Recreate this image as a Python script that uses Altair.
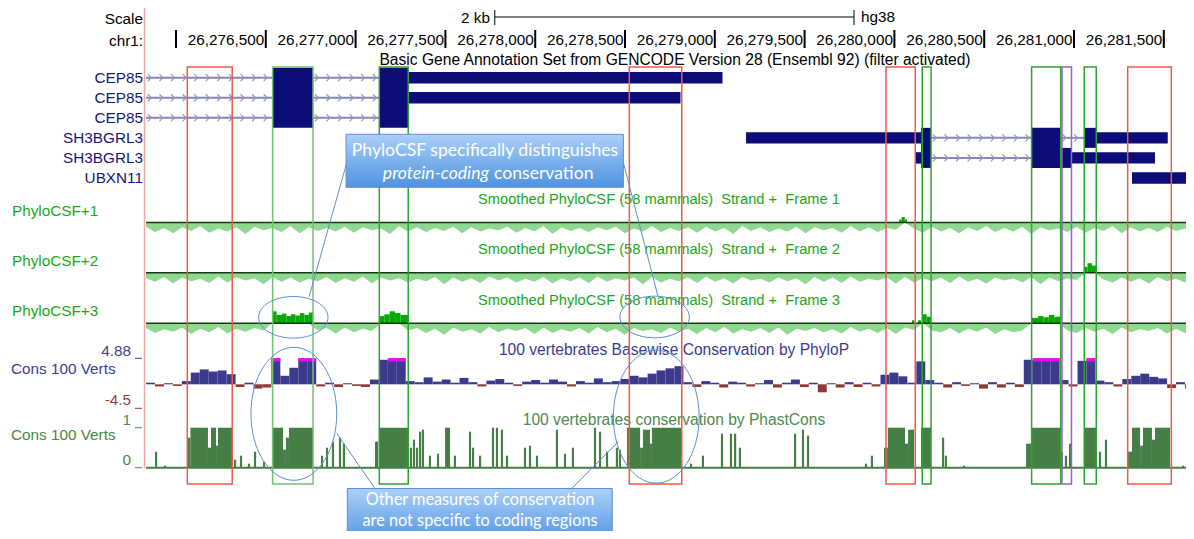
import altair as alt
import pandas as pd

# ------------------------------------------------------------------ data
RULER_TICKS = [26276000, 26276500, 26277000, 26277500, 26278000, 26278500,
               26279000, 26279500, 26280000, 26280500, 26281000, 26281500]
SCALE_BAR_BP = [26277775, 26279775]
TRACK_START = 26275833
TRACK_END = 26281668

GENE_NAMES = ["CEP85", "CEP85", "CEP85", "SH3BGRL3", "SH3BGRL3", "UBXN11"]

INTRON_ROW = [0, 0, 1, 1, 2, 2, 3, 3, 4]
INTRON_START = [26275833, 26276763, 26275833, 26276763, 26275833, 26276763,
                26280204, 26280926, 26280204]
INTRON_END = [26276538, 26277132, 26276538, 26277132, 26276538, 26277132,
              26280764, 26281061, 26280764]

BLOCK_ROW_TOP = [0, 0, 0, 1, 3, 3, 3, 3, 3, 4, 4, 4, 5]
BLOCK_ROW_BOT = [2, 2, 0, 1, 3, 4, 4, 3, 3, 4, 4, 4, 5]
BLOCK_START = [26276538, 26277132, 26277293, 26277293, 26279174, 26280148, 26280764,
               26281061, 26281124, 26280116, 26280926, 26280986, 26281323]
BLOCK_END = [26276763, 26277293, 26279043, 26278809, 26280148, 26280204, 26280926,
             26281124, 26281522, 26280148, 26280986, 26281451, 26281700]
BLOCK_KIND = ["cds", "cds", "utr", "utr", "utr", "cds", "cds",
              "cds", "utr", "utr", "cds", "utr", "utr"]

HL_START = [26276063, 26276538, 26277132, 26278524, 26279953,
            26280155, 26280764, 26280933, 26281057, 26281299]
HL_END = [26276313, 26276763, 26277293, 26278816, 26280116,
          26280204, 26280926, 26280986, 26281124, 26281542]
HL_KIND = ["noncoding", "coding_light", "coding", "noncoding", "noncoding",
           "coding", "coding", "other", "coding", "noncoding"]

# Smoothed PhyloCSF, negative background (score units), one value per window
CSF1_NEG = [7, 16, 9, 18, 8, 14, 6, 17, 10, 15,
            8, 19, 7, 13, 9, 16, 6, 18, 8, 14,
            9, 15, 7, 17, 8, 13, 10, 19, 6, 15,
            8, 16, 9, 14, 7, 18, 8, 15, 10, 13,
            7, 17, 9, 15, 6, 19, 8, 14, 9, 16,
            8, 13, 7, 18, 10, 15, 6, 16, 9, 14,
            8, 17, 7, 15, 9, 19, 6, 14, 8, 16,
            10, 15, 7, 18, 8, 13, 9, 17, 6, 15,
            8, 16, 9, 12, 0, 10, 17, 7, 15, 9,
            18, 8, 14, 6, 16, 9, 15, 7, 19, 8,
            13, 10, 16, 7, 17, 9, 14, 6, 18, 8,
            15, 9, 16, 7, 14, 10, 17]
CSF2_NEG = [9, 15, 7, 18, 8, 14, 10, 17, 6, 16,
            8, 13, 9, 19, 7, 15, 8, 16, 10, 14,
            7, 17, 9, 15, 6, 18, 8, 13, 9, 16,
            10, 14, 7, 19, 8, 15, 9, 17, 6, 13,
            8, 16, 10, 15, 7, 18, 9, 14, 8, 17,
            6, 15, 9, 13, 8, 19, 7, 16, 10, 14,
            8, 17, 6, 15, 9, 18, 7, 13, 10, 16,
            8, 14, 9, 19, 7, 15, 8, 17, 6, 15,
            10, 13, 8, 18, 7, 16, 9, 14, 8, 17,
            6, 15, 10, 18, 8, 13, 9, 16, 7, 19,
            8, 14, 9, 12, 0, 0, 11, 16, 8, 15,
            9, 18, 7, 14, 10, 16, 8]
CSF3_NEG = [8, 16, 10, 14, 7, 18, 9, 15, 6, 17,
            9, 14, 8, 12, 0, 0, 0, 0, 0, 12,
            8, 17, 7, 15, 9, 13, 0, 0, 0, 12,
            8, 16, 9, 19, 7, 14, 10, 17, 6, 15,
            9, 13, 8, 18, 7, 16, 10, 14, 8, 17,
            6, 15, 9, 19, 8, 13, 10, 16, 7, 14,
            9, 18, 8, 15, 6, 17, 10, 14, 8, 16,
            7, 19, 9, 13, 8, 15, 10, 17, 6, 14,
            9, 16, 8, 18, 7, 11, 0, 12, 15, 8,
            17, 9, 14, 7, 18, 10, 15, 12, 0, 0,
            0, 0, 12, 16, 8, 14, 9, 18, 7, 15,
            10, 13, 8, 17, 9, 16, 11]

# Smoothed PhyloCSF positive signal: (frame, start, end, score)
CSF_POSITIVE = [
    (1, 26280026, 26280040, 5), (1, 26280040, 26280058, 9), (1, 26280058, 26280070, 5),
    (2, 26281061, 26281075, 10), (2, 26281075, 26281100, 16), (2, 26281100, 26281123, 12),
    (3, 26276535, 26276560, 20), (3, 26276560, 26276590, 14), (3, 26276590, 26276615, 16),
    (3, 26276615, 26276640, 12), (3, 26276640, 26276665, 15), (3, 26276665, 26276690, 13),
    (3, 26276690, 26276715, 17), (3, 26276715, 26276740, 14), (3, 26276740, 26276763, 18),
    (3, 26277130, 26277160, 12), (3, 26277160, 26277190, 15), (3, 26277190, 26277220, 20),
    (3, 26277220, 26277250, 17), (3, 26277250, 26277292, 14),
    (3, 26280098, 26280110, 5), (3, 26280131, 26280148, 5),
    (3, 26280155, 26280180, 15), (3, 26280180, 26280204, 11),
    (3, 26280766, 26280800, 9), (3, 26280800, 26280830, 12), (3, 26280830, 26280860, 10),
    (3, 26280860, 26280890, 14), (3, 26280890, 26280922, 11),
]

# PhyloP basewise conservation, one value per window
PHYLOP = [0.3, -0.4, 0.2, -0.3, 0.6, 2.2, 2.8, 2.4, 2.6, 1.9,
          -0.5, 0.3, -0.8, -0.6, 4.88, 1.6, 3.1, 4.88, 4.88, -0.4,
          0.3, -0.5, 0.2, -0.3, -0.5, 0.9, 4.6, 4.88, 4.88, 0.6,
          0.4, 1.3, 0.5, 0.9, 0.3, 1.2, 0.4, -0.4, 0.7, 1.0,
          0.3, -0.3, 0.5, 0.8, 0.3, 0.9, 0.5, -0.4, 0.6, 0.3,
          1.1, 0.4, 0.6, 1.0, 1.6, 1.3, 2.0, 2.6, 3.0, 3.4,
          0.4, -0.5, 0.6, 0.3, -0.6, 0.5, 0.3, -0.4, 0.2, 0.8,
          -0.6, 0.3, 0.9, -0.5, 0.3, -1.5, 0.2, -0.6, 0.4, -0.5,
          0.3, -0.4, 1.8, 2.2, 1.5, 0.3, 4.3, 0.8, 0.3, -0.6,
          0.4, -0.3, 0.2, -0.8, 0.4, -0.6, 0.3, -0.5, 4.6, 4.88,
          4.88, 4.88, 0.8, -0.4, 4.4, 4.88, 0.7, 0.4, -0.4, 1.0,
          1.6, 2.0, 1.4, 1.1, -0.7, 0.4, -0.8]
PHYLOP_MAX, PHYLOP_MIN = 4.88, -4.5

# PhastCons: (start, end, probability)
PHASTCONS = [
    (26275883, 26275895, 0.40), (26275933, 26275945, 0.05),
    (26276063, 26276080, 0.75), (26276080, 26276178, 1.0), (26276178, 26276195, 0.5),
    (26276195, 26276223, 1.0), (26276223, 26276234, 0.55), (26276234, 26276312, 1.0),
    (26276323, 26276335, 0.2), (26276356, 26276368, 0.3), (26276400, 26276412, 0.1),
    (26276434, 26276446, 0.4), (26276484, 26276496, 0.15),
    (26276535, 26276596, 1.0), (26276596, 26276612, 0.45), (26276612, 26276629, 0.75),
    (26276629, 26276763, 1.0),
    (26276807, 26276819, 0.3), (26276835, 26276847, 0.5), (26276868, 26276880, 0.65),
    (26276907, 26276919, 0.75), (26276929, 26276941, 0.6),
    (26277108, 26277125, 0.65), (26277130, 26277292, 1.0),
    (26277302, 26277314, 0.5), (26277319, 26277331, 0.7), (26277336, 26277348, 0.5),
    (26277353, 26277365, 0.9), (26277369, 26277381, 0.95), (26277408, 26277420, 0.3),
    (26277453, 26277465, 0.35), (26277498, 26277526, 1.0), (26277547, 26277559, 0.3),
    (26277631, 26277643, 0.9), (26277648, 26277660, 0.5), (26277687, 26277699, 0.3),
    (26277759, 26277771, 1.0), (26277781, 26277793, 1.0), (26277809, 26277821, 0.95),
    (26277837, 26277849, 0.3), (26277937, 26277949, 0.5), (26277965, 26277977, 0.55),
    (26278004, 26278016, 0.3), (26278115, 26278127, 0.95), (26278160, 26278172, 0.35),
    (26278204, 26278216, 0.5), (26278327, 26278339, 1.0), (26278355, 26278367, 0.9),
    (26278394, 26278406, 0.4), (26278449, 26278461, 0.5), (26278466, 26278478, 0.45),
    (26278511, 26278584, 1.0), (26278584, 26278600, 0.5), (26278600, 26278639, 0.95),
    (26278639, 26278650, 0.6), (26278650, 26278812, 1.0),
    (26278862, 26278874, 0.1), (26278928, 26278940, 0.3), (26279034, 26279046, 0.85),
    (26279084, 26279096, 0.85), (26279107, 26279119, 0.85), (26279134, 26279146, 0.5),
    (26279441, 26279453, 0.85), (26279485, 26279497, 0.95), (26279513, 26279525, 0.8),
    (26279836, 26279848, 0.1), (26279869, 26279881, 0.3),
    (26279942, 26279964, 0.5), (26279964, 26280059, 1.0), (26280059, 26280076, 0.6),
    (26280076, 26280109, 0.95), (26280148, 26280204, 1.0),
    (26280265, 26280277, 0.75), (26280281, 26280293, 0.3), (26280382, 26280394, 0.05),
    (26280733, 26280761, 0.6), (26280766, 26280922, 1.0),
    (26280927, 26280939, 0.4), (26280949, 26280961, 0.3), (26280972, 26280984, 0.6),
    (26281061, 26281123, 1.0), (26281139, 26281151, 0.4), (26281172, 26281184, 0.7),
    (26281301, 26281323, 0.4), (26281323, 26281368, 1.0), (26281368, 26281384, 0.55),
    (26281384, 26281434, 1.0), (26281434, 26281451, 0.7), (26281451, 26281535, 1.0),
    (26281601, 26281613, 0.05),
]

# ------------------------------------------------------------------ layout / style
W, H = 1178, 523
PX_PER_BP = 0.1796
REF_BP, REF_PX = 26276000, 176
XL = REF_BP - (REF_PX - 8) / PX_PER_BP
XR = REF_BP + (8 + W - REF_PX) / PX_PER_BP
UFONT = "Liberation Sans"
CFONT = "Lato"
NAVY = "#0c0c78"
FS = 15.3
FT = 15.6
NB = "\u00a0"


def P(v):
    return v - 8


xs = alt.Scale(domain=[XL, XR], nice=False, zero=False)


def X(f):
    return alt.X(f, type="quantitative", scale=xs, axis=None)


def txt(s, x, y, align="left", color="#000000", size=FS, font=UFONT, style="normal"):
    return alt.Chart(pd.DataFrame({"t": [s]})).mark_text(
        align=align, baseline="middle", color=color, fontSize=size, font=font,
        fontStyle=style).encode(x=alt.value(P(x)), y=alt.value(P(y)), text="t:N")


def hrule(x1, x2, y, color, w=1.0):
    return alt.Chart(pd.DataFrame({"a": [0]})).mark_rule(color=color, strokeWidth=w).encode(
        x=alt.value(P(x1)), x2=alt.value(P(x2)), y=alt.value(P(y)))


layers = []

# pink left border line
layers.append(alt.Chart(pd.DataFrame({"a": [0]})).mark_rule(color="#f4a6a6", strokeWidth=1.5).encode(
    x=alt.value(P(144.5)), y=alt.value(P(5)), y2=alt.value(P(468))))

# ---- header: scale bar and ruler
layers.append(txt("Scale", 143, 19, align="right"))
layers.append(txt("chr1:", 143, 41, align="right"))
sb = pd.DataFrame({"s": [SCALE_BAR_BP[0]], "e": [SCALE_BAR_BP[1]]})
layers.append(alt.Chart(sb).mark_rule(color="#000", strokeWidth=1).encode(
    x=X("s"), x2="e:Q", y=alt.value(P(17))))
sbt = pd.DataFrame({"p": SCALE_BAR_BP})
layers.append(alt.Chart(sbt).mark_rule(color="#000", strokeWidth=1).encode(
    x=X("p"), y=alt.value(P(10)), y2=alt.value(P(25))))
layers.append(txt("2 kb", 490, 18, align="right"))
layers.append(txt("hg38", 861, 17))

ticks = pd.DataFrame({"p": RULER_TICKS})
layers.append(alt.Chart(ticks).mark_rule(color="#000", strokeWidth=2).encode(
    x=X("p"), y=alt.value(P(30)), y2=alt.value(P(48))))
tl = pd.DataFrame({"p": RULER_TICKS[1:], "lab": [f"{v:,}" for v in RULER_TICKS[1:]]})
layers.append(alt.Chart(tl).mark_text(align="right", baseline="middle", dx=-1.5, fontSize=FS,
                                      font=UFONT, color="#000").encode(
    x=X("p"), y=alt.value(P(40)), text="lab:N"))

layers.append(txt("Basic Gene Annotation Set from GENCODE Version 28 (Ensembl 92) (filter activated)",
                  675, 60, align="center", size=FT))

# ---- gene track
ROW0, PITCH = 77.7, 20.05
gy = alt.Scale(domain=[0, 5], range=[P(ROW0), P(ROW0 + 5 * PITCH)])
introns = pd.DataFrame({"row": INTRON_ROW, "s": INTRON_START, "e": INTRON_END})
layers.append(alt.Chart(introns).mark_rule(color="#8585c4", strokeWidth=2).encode(
    x=X("s"), x2="e:Q", y=alt.Y("row:Q", scale=gy, axis=None)))
chev = []
for r, s, e in zip(INTRON_ROW, INTRON_START, INTRON_END):
    p = s + 20
    while p < e - 15:
        chev.append({"row": r, "p": p})
        p += 64.5
layers.append(alt.Chart(pd.DataFrame(chev)).mark_point(
    shape="M-0.5,-1L0.5,0L-0.5,1", size=49, filled=False, color="#9a9a9a",
    strokeWidth=1.2, opacity=1).encode(x=X("p"), y=alt.Y("row:Q", scale=gy, axis=None)))
half = {"cds": 0.499, "utr": 0.284}
blocks = pd.DataFrame({"rt": BLOCK_ROW_TOP, "rb": BLOCK_ROW_BOT, "s": BLOCK_START,
                       "e": BLOCK_END, "k": BLOCK_KIND})
blocks["y0"] = blocks["rt"] - blocks["k"].map(half)
blocks["y1"] = blocks["rb"] + blocks["k"].map(half)
layers.append(alt.Chart(blocks).mark_rect(color=NAVY).encode(
    x=X("s"), x2="e:Q", y=alt.Y("y0:Q", scale=gy, axis=None), y2="y1:Q"))
for i, name in enumerate(GENE_NAMES):
    layers.append(txt(name, 143, ROW0 + i * PITCH, align="right", color="#16167c"))

# ---- PhyloCSF tracks
CSF_BASE = [222.5, 272.8, 323.3]
LIGHT = "#8fd88f"
n = len(CSF1_NEG)
grid = [TRACK_START + i * (TRACK_END - TRACK_START) / (n - 1) for i in range(n)]
pos_df = pd.DataFrame(CSF_POSITIVE, columns=["f", "s", "e", "v"])
pos_df["z"] = 0
for k, (neg, b) in enumerate(zip([CSF1_NEG, CSF2_NEG, CSF3_NEG], CSF_BASE)):
    cs = alt.Scale(domain=[-20, 20], range=[P(b + 12), P(b - 12)])
    nd = pd.DataFrame({"p": grid, "v": [-m for m in neg], "z": 0})
    layers.append(alt.Chart(nd).mark_area(color=LIGHT, interpolate="linear", opacity=1).encode(
        x=X("p"), y=alt.Y("v:Q", scale=cs, axis=None), y2="z:Q"))
    bd = pos_df[pos_df["f"] == k + 1]
    layers.append(alt.Chart(bd).mark_rect(color="#05a805").encode(
        x=X("s"), x2="e:Q", y=alt.Y("v:Q", scale=cs, axis=None), y2="z:Q"))
    base = pd.DataFrame({"s": [TRACK_START], "e": [TRACK_END], "z": [0]})
    layers.append(alt.Chart(base).mark_rule(color="#173817", strokeWidth=1.5).encode(
        x=X("s"), x2="e:Q", y=alt.Y("z:Q", scale=cs, axis=None)))
    layers.append(txt(f"PhyloCSF+{k + 1}", 12, b - 12, color="#1aa81a"))
    layers.append(txt(f"Smoothed PhyloCSF (58 mammals){NB} Strand +{NB} Frame {k + 1}", 659, b - 22.5,
                      align="center", color="#1aa81a", size=14.7))

# ---- PhyloP
ps = alt.Scale(domain=[PHYLOP_MIN, PHYLOP_MAX], range=[P(408.3), P(358.3)])
wbin = (TRACK_END - TRACK_START) / len(PHYLOP)
pp = pd.DataFrame({"s": [TRACK_START + i * wbin for i in range(len(PHYLOP))], "v": PHYLOP})
pp["e"] = pp["s"] + wbin
pp["z"] = 0.0
pp["cap"] = PHYLOP_MAX - 0.6
layers.append(alt.Chart(pp[pp["v"] > 0]).mark_rect(color="#3b3b8d").encode(
    x=X("s"), x2="e:Q", y=alt.Y("v:Q", scale=ps, axis=None), y2="z:Q"))
layers.append(alt.Chart(pp[pp["v"] < 0]).mark_rect(color="#8d3a36").encode(
    x=X("s"), x2="e:Q", y=alt.Y("v:Q", scale=ps, axis=None), y2="z:Q"))
layers.append(alt.Chart(pp[pp["v"] >= PHYLOP_MAX]).mark_rect(color="#ff00ff").encode(
    x=X("s"), x2="e:Q", y=alt.Y("v:Q", scale=ps, axis=None), y2="cap:Q"))
layers.append(txt("4.88", 131, 351, align="right", color="#3c3c8e"))
layers.append(hrule(135, 142, 358.3, "#3c3c8e"))
layers.append(txt("Cons 100 Verts", 11, 369, color="#3c3c8e"))
layers.append(txt("-4.5", 131, 400, align="right", color="#8e3c3c"))
layers.append(hrule(135, 142, 408.3, "#8e3c3c"))
layers.append(txt("100 vertebrates Basewise Conservation by PhyloP", 674, 350, align="center",
                  color="#3c3c8e", size=FT))

# ---- PhastCons
pcs = alt.Scale(domain=[0, 1], range=[P(467.7), P(427.7)])
pc = pd.DataFrame(PHASTCONS, columns=["s", "e", "v"])
pc["z"] = 0.0
layers.append(alt.Chart(pc).mark_rect(color="#467f46").encode(
    x=X("s"), x2="e:Q", y=alt.Y("v:Q", scale=pcs, axis=None), y2="z:Q"))
pcb = pd.DataFrame({"s": [TRACK_START], "e": [TRACK_END], "z": [0]})
layers.append(alt.Chart(pcb).mark_rule(color="#467f46", strokeWidth=2).encode(
    x=X("s"), x2="e:Q", y=alt.Y("z:Q", scale=pcs, axis=None)))
layers.append(txt("1", 131, 420, align="right", color="#4a864a"))
layers.append(hrule(135, 142, 427.7, "#4a864a"))
layers.append(txt("Cons 100 Verts", 11, 435, color="#4a864a"))
layers.append(txt("0", 131, 460, align="right", color="#4a864a"))
layers.append(hrule(135, 142, 467.7, "#4a864a"))
layers.append(txt("100 vertebrates conservation by PhastCons", 674, 420, align="center",
                  color="#4f8a4f", size=FT))

# ---- highlight boxes
hl = pd.DataFrame({"s": HL_START, "e": HL_END, "k": HL_KIND})
layers.append(alt.Chart(hl).mark_rect(fillOpacity=0, strokeWidth=1.5).encode(
    x=X("s"), x2="e:Q", y=alt.value(P(67)), y2=alt.value(P(484)),
    stroke=alt.Stroke("k:N", scale=alt.Scale(domain=["noncoding", "coding", "coding_light", "other"],
                                              range=["#ef5a45", "#2fa22f", "#72c272", "#9a62b8"]),
                      legend=None)))

# ---- callouts
BLUE = "#5b8fd6"
BOX2_TOP = 488.5
ptr = pd.DataFrame({
    "x1": [26276950, 26278491, 26277108, 26278203],
    "x2": [26276741, 26278684, 26276895, 26278463],
    "y1": [P(163.3), P(162.7), P(BOX2_TOP), P(BOX2_TOP)],
    "y2": [P(296.7), P(296.5), P(433.3), P(441.7)],
})
layers.append(alt.Chart(ptr).mark_rule(color=BLUE, strokeWidth=1).encode(
    x=X("x1"), x2="x2:Q", y=alt.Y("y1:Q", scale=None), y2="y2:Q"))
small = pd.DataFrame({"p": [26276653, 26278665], "y": [P(317.3), P(317)]})
layers.append(alt.Chart(small).mark_point(
    shape="M1,0C1,0.3314 0.5523,0.6 0,0.6C-0.5523,0.6 -1,0.3314 -1,0C-1,-0.3314 -0.5523,-0.6 0,-0.6C0.5523,-0.6 1,-0.3314 1,0Z",
    size=69.4 ** 2, filled=False, color=BLUE, strokeWidth=1, opacity=1).encode(
    x=X("p"), y=alt.Y("y:Q", scale=None)))
big = pd.DataFrame({"p": [26276656, 26278674], "y": [P(413.8), P(416.7)]})
layers.append(alt.Chart(big).mark_point(
    shape="M0.645,0C0.645,0.5523 0.3562,1 0,1C-0.3562,1 -0.645,0.5523 -0.645,0C-0.645,-0.5523 -0.3562,-1 0,-1C0.3562,-1 0.645,-0.5523 0.645,0Z",
    size=133 ** 2, filled=False, color=BLUE, strokeWidth=1, opacity=1).encode(
    x=X("p"), y=alt.Y("y:Q", scale=None)))

grad = alt.LinearGradient(gradient="linear",
                          stops=[alt.GradientStop(color="#abd0f9", offset=0),
                                 alt.GradientStop(color="#4f92df", offset=1)],
                          x1=0, x2=0, y1=0, y2=1)
cb = pd.DataFrame({"s": [26276947, 26276954], "e": [26278491, 26278429],
                   "y1": [P(134.3), P(BOX2_TOP)], "y2": [P(187.3), P(545)]})
layers.append(alt.Chart(cb).mark_rect(fill=grad, stroke="#5a8ed6", strokeWidth=1).encode(
    x=X("s"), x2="e:Q", y=alt.Y("y1:Q", scale=None), y2="y2:Q"))
CS = 17.6
layers.append(txt("PhyloCSF specifically distinguishes", 485, 151, align="center",
                  color="#ffffff", size=CS, font=CFONT))
layers.append(txt("protein-coding", 489, 174, align="right", color="#ffffff", size=CS,
                  font=CFONT, style="italic"))
layers.append(txt("conservation", 494, 174, align="left", color="#ffffff", size=CS, font=CFONT))
layers.append(txt("Other measures of conservation", 480, 500.3, align="center",
                  color="#ffffff", size=16.3, font=CFONT))
layers.append(txt("are not specific to coding regions", 480, 520.5, align="center",
                  color="#ffffff", size=16.3, font=CFONT))

chart = alt.layer(*layers).resolve_scale(y="independent").properties(
    width=W, height=H, padding=0, autosize=alt.AutoSizeParams(type="none"),
    background="white"
).configure_view(stroke=None)

chart.save("out.html", embed_options={"renderer": "svg", "actions": False})
